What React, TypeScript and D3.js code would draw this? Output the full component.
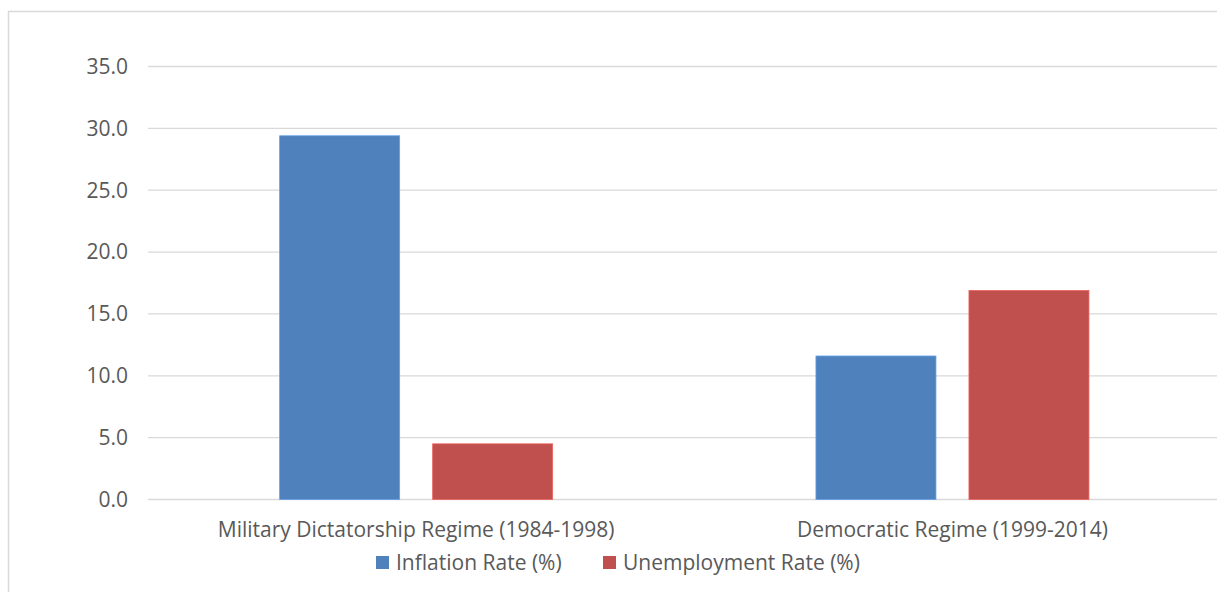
import React, { useEffect, useRef } from 'react';
import * as d3 from 'd3';

const categories = ['Military Dictatorship Regime (1984-1998)', 'Democratic Regime (1999-2014)'];
const seriesNames = ['Inflation Rate (%)', 'Unemployment Rate (%)'];
const inflation = [29.4, 11.6];
const unemployment = [4.5, 16.9];
const yTicks = [0, 5, 10, 15, 20, 25, 30, 35];
const colors = ['#4f81bd', '#c0504d'];

const FONT = '"Open Sans", Lato, sans-serif';
const FONT_SIZE = '21px';

const App: React.FC = () => {
  const ref = useRef<SVGSVGElement>(null);

  useEffect(() => {
    if (!ref.current) return;
    const svg = d3.select(ref.current);
    svg.selectAll('*').remove();

    const width = 1217;
    const height = 592;
    const left = 148;
    const right = 1220.6;
    const top = 66.5;
    const bottom = 499.5;

    // chart frame
    svg.append('rect')
      .attr('x', 8.5).attr('y', 11.5)
      .attr('width', width + 20).attr('height', height + 20)
      .attr('fill', '#fff')
      .attr('stroke', '#d9d9d9')
      .attr('stroke-width', 1.5);

    const x0 = d3.scaleBand<string>()
      .domain(categories)
      .range([left, right])
      .paddingInner(0)
      .paddingOuter(0);

    const y = d3.scaleLinear().domain([0, 35]).range([bottom, top]);

    // gridlines + y labels
    const grid = svg.append('g');
    grid.selectAll('line')
      .data(yTicks)
      .join('line')
      .attr('x1', left).attr('x2', width)
      .attr('y1', d => y(d)).attr('y2', d => y(d))
      .attr('stroke', '#d9d9d9')
      .attr('stroke-width', 1.3);

    grid.selectAll('text')
      .data(yTicks)
      .join('text')
      .attr('x', 128)
      .attr('y', d => y(d))
      .attr('dy', '0.35em')
      .attr('text-anchor', 'end')
      .style('font-family', FONT)
      .style('font-size', FONT_SIZE)
      .style('fill', '#595959')
      .text(d => d.toFixed(1));

    // bars
    const band = x0.bandwidth();
    const barW = 120;
    const gap = 33;
    const x1 = (i: number) => (band - (2 * barW + gap)) / 2 + i * (barW + gap);
    const series = [inflation, unemployment];

    series.forEach((vals, si) => {
      svg.append('g')
        .selectAll('rect')
        .data(vals)
        .join('rect')
        .attr('x', (_, i) => (x0(categories[i]) as number) + x1(si))
        .attr('y', d => y(d))
        .attr('width', barW)
        .attr('height', d => y(0) - y(d))
        .attr('fill', colors[si])
        .attr('stroke', d3.color(colors[si])!.brighter(0.6).formatHex())
        .attr('stroke-width', 0.8);
    });

    // category labels
    svg.append('g')
      .selectAll('text')
      .data(categories)
      .join('text')
      .attr('x', d => (x0(d) as number) + band / 2)
      .attr('y', 537)
      .attr('text-anchor', 'middle')
      .style('font-family', FONT)
      .style('font-size', FONT_SIZE)
      .style('fill', '#595959')
      .text(d => d);

    // legend
    const legendX = [376, 603];
    const legend = svg.append('g');
    seriesNames.forEach((name, i) => {
      legend.append('rect')
        .attr('x', legendX[i]).attr('y', 556)
        .attr('width', 13).attr('height', 13)
        .attr('fill', colors[i]);
      legend.append('text')
        .attr('x', legendX[i] + 20)
        .attr('y', 562.5)
        .attr('dy', '0.35em')
        .style('font-family', FONT)
        .style('font-size', FONT_SIZE)
        .style('fill', '#595959')
        .text(name);
    });
  }, []);

  return (
    <div style={{ position: 'absolute', left: 0, top: 0 }}>
      <svg ref={ref} width={1217} height={592} style={{ display: 'block' }} />
    </div>
  );
};

export default App;
